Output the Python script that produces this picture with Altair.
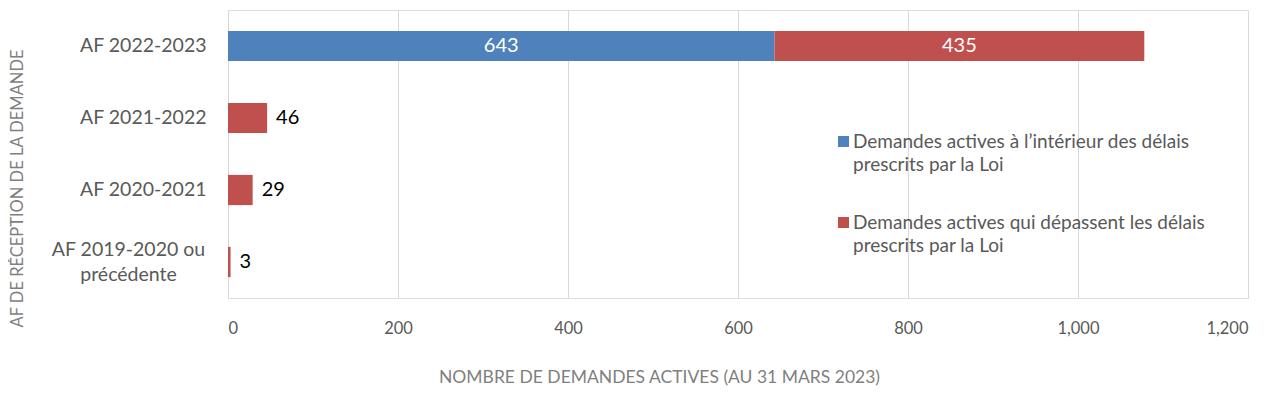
import altair as alt
import pandas as pd

years = ["AF 2022-2023", "AF 2021-2022", "AF 2020-2021", "AF 2019-2020 ou\nprécédente"]
series = [
    "Demandes actives à l’intérieur des délais\nprescrits par la Loi",
    "Demandes actives qui dépassent les délais\nprescrits par la Loi",
]
colors = ["#4F81BD", "#C0504D"]
within_vals = [643, None, None, None]
beyond_vals = [435, 46, 29, 3]
x_ticks = [0, 200, 400, 600, 800, 1000, 1200]

rows = []
for i, y in enumerate(years):
    for s_idx, vals in enumerate([within_vals, beyond_vals]):
        v = vals[i]
        if v is not None:
            rows.append({"year": y, "series": series[s_idx], "order": s_idx, "value": v,
                         "inside": within_vals[i] is not None})
df = pd.DataFrame(rows)

FONT = "Lato"
MULTI = "indexof(datum.value, 'ou') >= 0"

base = alt.Chart(df)

y_enc = alt.Y(
    "year:N", sort=years, title="AF  DE RÉCEPTION DE LA DEMANDE",
    scale=alt.Scale(paddingInner=0.58, paddingOuter=0.29),
    axis=alt.Axis(
        domain=False, ticks=False, grid=False,
        labelPadding={"condition": {"test": MULTI, "value": 100}, "value": 22},
        labelAlign={"condition": {"test": MULTI, "value": "center"}, "value": "right"},
        labelFontSize=19.5, labelColor="#595959", labelFont=FONT,
        labelExpr="split(datum.label, '\\n')", labelLineHeight=25,
        labelOffset={"condition": {"test": MULTI, "value": -12}, "value": 0},
        labelLimit=300,
        titleFont=FONT, titleFontSize=16.5, titleColor="#7F7F7F", titleFontWeight="normal",
        titleX=-211, titleY=178, titleAngle=-90, titleAlign="center", titleBaseline="middle",
    ),
)

bars = base.mark_bar().encode(
    x=alt.X(
        "value:Q", stack="zero",
        title="NOMBRE DE DEMANDES ACTIVES (AU 31 MARS 2023)",
        scale=alt.Scale(domain=[0, 1200], nice=False),
        axis=alt.Axis(
            values=x_ticks, format=",d", domain=False, ticks=False,
            gridColor="#D9D9D9", gridWidth=1,
            labelFontSize=16.5, labelColor="#595959", labelFont=FONT, labelPadding=22,
            titleFont=FONT, titleFontSize=17.5, titleColor="#7F7F7F", titleFontWeight="normal",
            titleX=431, titleY=79, titleBaseline="middle",
        ),
    ),
    y=y_enc,
    color=alt.Color(
        "series:N",
        scale=alt.Scale(domain=series, range=colors),
        legend=alt.Legend(
            title=None, orient="none", legendX=606, legendY=122,
            symbolType="square", symbolSize=121, symbolStrokeWidth=0,
            labelFontSize=19, labelColor="#595959", labelFont=FONT,
            labelExpr="split(datum.label, '\\n')",
            labelLimit=500, rowPadding=38, labelBaseline="middle", labelOffset=0,
        ),
    ),
    order=alt.Order("order:Q"),
)

inside_text = base.transform_filter("datum.inside").transform_stack(
    stack="value", groupby=["year"], as_=["v0", "v1"], sort=[alt.SortField("order")]
).transform_calculate(mid="(datum.v0 + datum.v1) / 2").mark_text(
    color="white", fontSize=20, font=FONT, baseline="middle", align="center"
).encode(
    x=alt.X("mid:Q"),
    y=alt.Y("year:N", sort=years),
    text=alt.Text("value:Q"),
)

outside_text = base.transform_filter("!datum.inside").mark_text(
    color="black", fontSize=20, font=FONT, baseline="middle", align="left", dx=9
).encode(
    x=alt.X("value:Q"),
    y=alt.Y("year:N", sort=years),
    text=alt.Text("value:Q"),
)

chart = alt.layer(bars, inside_text, outside_text).properties(
    width=1020, height=288,
    autosize=alt.AutoSizeParams(type="none"),
    padding={"left": 220, "top": 2, "right": 23, "bottom": 89},
).configure_view(strokeWidth=0, stroke="transparent").configure(
    background="white", style={"guide-label": {"lineHeight": 23}}
)

chart.save("out.html", embed_options={"renderer": "svg", "actions": False})
